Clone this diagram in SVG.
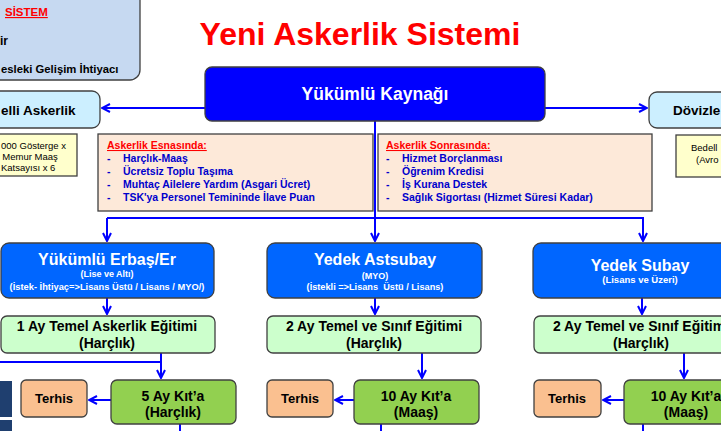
<svg xmlns="http://www.w3.org/2000/svg" width="721" height="431" viewBox="0 0 721 431">
<defs>
<style>
text{font-family:"Liberation Sans",Arial,sans-serif;font-weight:bold}
.bx{stroke:#404040;stroke-width:1.3}
.c{text-anchor:middle}
.w{fill:#fff}
.bl{fill:#0000cc;font-size:10.5px}
.hd{fill:#ff0000;font-size:10.5px;text-decoration:underline}
.ln{stroke:#0000ff;stroke-width:2;fill:none}
.g1{font-size:14px}
.nt{font-weight:normal;font-size:9.5px}
</style>
<marker id="ar" viewBox="0 0 10 10" refX="9" refY="5" markerWidth="10" markerHeight="10" markerUnits="userSpaceOnUse" orient="auto">
<path d="M1,1 L9,5 L1,9" fill="none" stroke="#0000ff" stroke-width="2"/>
</marker>
</defs>
<rect width="721" height="431" fill="#fff"/>

<g id="title"><text x="360" y="45" class="c" style="font-size:32px;fill:#ff0000">Yeni Askerlik Sistemi</text></g>

<g id="sistem">
<rect class="bx" x="-12" y="-12" width="152" height="92" rx="10" fill="#c6d9f1"/>
<text x="5" y="16" style="font-size:11.5px;fill:#ff0000;text-decoration:underline">SİSTEM</text>
<text x="0" y="45" style="font-size:12px">ir</text>
<text x="1" y="73" style="font-size:11.3px">esleki Gelişim İhtiyacı</text>
</g>

<g id="connectors">
<line class="ln" x1="205" y1="108" x2="102" y2="108" marker-end="url(#ar)"/>
<line class="ln" x1="545" y1="108" x2="647" y2="108" marker-end="url(#ar)"/>
<polyline class="ln" points="375,121 375,218"/>
<polyline class="ln" points="107,218 643,218 643,241" marker-end="url(#ar)"/>
<line class="ln" x1="107" y1="218" x2="107" y2="241" marker-end="url(#ar)"/>
<line class="ln" x1="375" y1="218" x2="375" y2="241" marker-end="url(#ar)"/>
<line class="ln" x1="107" y1="298" x2="107" y2="314" marker-end="url(#ar)"/>
<line class="ln" x1="375" y1="298" x2="375" y2="314" marker-end="url(#ar)"/>
<line class="ln" x1="642" y1="298" x2="642" y2="314" marker-end="url(#ar)"/>
<polyline class="ln" points="0,362 161,362"/>
<line class="ln" x1="161" y1="353" x2="161" y2="378" marker-end="url(#ar)"/>
<line class="ln" x1="422" y1="353" x2="422" y2="378" marker-end="url(#ar)"/>
<line class="ln" x1="684" y1="353" x2="684" y2="378" marker-end="url(#ar)"/>
<line class="ln" x1="111" y1="400" x2="89" y2="400" marker-end="url(#ar)"/>
<line class="ln" x1="354" y1="400" x2="335" y2="400" marker-end="url(#ar)"/>
<line class="ln" x1="624" y1="400" x2="603" y2="400" marker-end="url(#ar)"/>
<line class="ln" x1="180" y1="424" x2="180" y2="432"/>
<line class="ln" x1="381" y1="424" x2="381" y2="432"/>
<line class="ln" x1="643" y1="424" x2="643" y2="432"/>
</g>

<g id="kaynak">
<rect class="bx" x="205" y="67" width="340" height="54" rx="7" fill="#0000ff"/>
<text x="375" y="100" class="c w" style="font-size:17.5px">Yükümlü Kaynağı</text>
</g>

<g id="bedelli">
<rect class="bx" x="-12" y="91" width="112" height="37" rx="8" fill="#ccefff"/>
<text x="1" y="115" style="font-size:13.5px">elli Askerlik</text>
</g>
<g id="bedelli-not">
<rect class="bx" x="-12" y="134" width="89" height="42" fill="#ffffcc"/>
<text x="1" y="149" class="nt">000 Gösterge x</text>
<text x="30" y="160" class="nt c">Memur Maaş</text>
<text x="1" y="171" class="nt">Katsayısı x 6</text>
</g>

<g id="dovizle">
<rect class="bx" x="649" y="92" width="90" height="36" rx="8" fill="#ccefff"/>
<text x="673" y="115" style="font-size:13.5px">Dövizle</text>
</g>
<g id="dovizle-not">
<rect class="bx" x="676" y="135" width="60" height="42" fill="#ffffcc"/>
<text x="691" y="151" class="nt">Bedell</text>
<text x="696" y="163" class="nt">(Avro</text>
</g>

<g id="esnasinda">
<rect class="bx" x="98" y="134" width="275" height="77" fill="#fde9d9"/>
<text x="107" y="149" class="hd">Askerlik Esnasında:</text>
<text x="107" y="162" class="bl">-</text><text x="123" y="162" class="bl">Harçlık-Maaş</text>
<text x="107" y="175" class="bl">-</text><text x="123" y="175" class="bl">Ücretsiz Toplu Taşıma</text>
<text x="107" y="188" class="bl">-</text><text x="123" y="188" class="bl">Muhtaç Ailelere Yardım (Asgari Ücret)</text>
<text x="107" y="201" class="bl">-</text><text x="123" y="201" class="bl">TSK'ya Personel Temininde İlave Puan</text>
</g>

<g id="sonrasinda">
<rect class="bx" x="378" y="134" width="274" height="77" fill="#fde9d9"/>
<text x="386" y="149" class="hd">Askerlik Sonrasında:</text>
<text x="386" y="162" class="bl">-</text><text x="402" y="162" class="bl">Hizmet Borçlanması</text>
<text x="386" y="175" class="bl">-</text><text x="402" y="175" class="bl">Öğrenim Kredisi</text>
<text x="386" y="188" class="bl">-</text><text x="402" y="188" class="bl">İş Kurana Destek</text>
<text x="386" y="201" class="bl">-</text><text x="402" y="201" class="bl">Sağlık Sigortası (Hizmet Süresi Kadar)</text>
</g>

<g id="erbas">
<rect class="bx" x="1" y="243" width="213" height="55" rx="8" fill="#0066ff"/>
<text x="107" y="265" class="c w" style="font-size:16px">Yükümlü Erbaş/Er</text>
<text x="107" y="277" class="c w" style="font-size:9px">(Lise ve Altı)</text>
<text x="107" y="290" class="c w" style="font-size:9.3px">(İstek- İhtiyaç=&gt;Lisans Üstü / Lisans / MYO/)</text>
</g>
<g id="astsubay">
<rect class="bx" x="267" y="243" width="215" height="55" rx="8" fill="#0066ff"/>
<text x="375" y="265" class="c w" style="font-size:16px">Yedek Astsubay</text>
<text x="375" y="279" class="c w" style="font-size:9px">(MYO)</text>
<text x="375" y="290" class="c w" style="font-size:9.2px" xml:space="preserve">(İstekli =&gt;Lisans  Üstü / Lisans)</text>
</g>
<g id="subay">
<rect class="bx" x="533" y="243" width="215" height="55" rx="8" fill="#0066ff"/>
<text x="640" y="271" class="c w" style="font-size:16px">Yedek Subay</text>
<text x="640" y="283" class="c w" style="font-size:9.5px">(Lisans ve Üzeri)</text>
</g>

<g id="egitim1">
<rect class="bx" x="1" y="316" width="214" height="37" rx="6" fill="#ccffcc"/>
<text x="107" y="331" class="c g1">1 Ay Temel Askerlik Eğitimi</text>
<text x="107" y="348" class="c g1">(Harçlık)</text>
</g>
<g id="egitim2">
<rect class="bx" x="267" y="316" width="214" height="37" rx="6" fill="#ccffcc"/>
<text x="374" y="331" class="c g1">2 Ay Temel ve Sınıf Eğitimi</text>
<text x="374" y="348" class="c g1">(Harçlık)</text>
</g>
<g id="egitim3">
<rect class="bx" x="534" y="316" width="214" height="37" rx="6" fill="#ccffcc"/>
<text x="641" y="331" class="c g1">2 Ay Temel ve Sınıf Eğitimi</text>
<text x="641" y="348" class="c g1">(Harçlık)</text>
</g>

<g id="kita1">
<rect class="bx" x="111" y="380" width="125" height="44" rx="6" fill="#92d050"/>
<text x="173" y="401" class="c g1">5 Ay Kıt’a</text>
<text x="173" y="417" class="c g1">(Harçlık)</text>
</g>
<g id="kita2">
<rect class="bx" x="354" y="380" width="125" height="44" rx="6" fill="#92d050"/>
<text x="416" y="401" class="c g1">10 Ay Kıt’a</text>
<text x="416" y="417" class="c g1">(Maaş)</text>
</g>
<g id="kita3">
<rect class="bx" x="624" y="380" width="125" height="44" rx="6" fill="#92d050"/>
<text x="686" y="401" class="c g1">10 Ay Kıt’a</text>
<text x="686" y="417" class="c g1">(Maaş)</text>
</g>

<g id="terhis1">
<rect class="bx" x="21" y="380" width="66" height="37" rx="5" fill="#fac090"/>
<text x="54" y="403" class="c" style="font-size:13px">Terhis</text>
</g>
<g id="terhis2">
<rect class="bx" x="267" y="380" width="66" height="37" rx="5" fill="#fac090"/>
<text x="300" y="403" class="c" style="font-size:13px">Terhis</text>
</g>
<g id="terhis3">
<rect class="bx" x="534" y="380" width="67" height="37" rx="5" fill="#fac090"/>
<text x="567" y="403" class="c" style="font-size:13px">Terhis</text>
</g>

<g id="edge-shapes">
<rect x="0" y="381" width="12" height="36" fill="#1f3f6f"/>
<rect x="0" y="420" width="12" height="11" fill="#1f3f6f"/>
</g>
</svg>
